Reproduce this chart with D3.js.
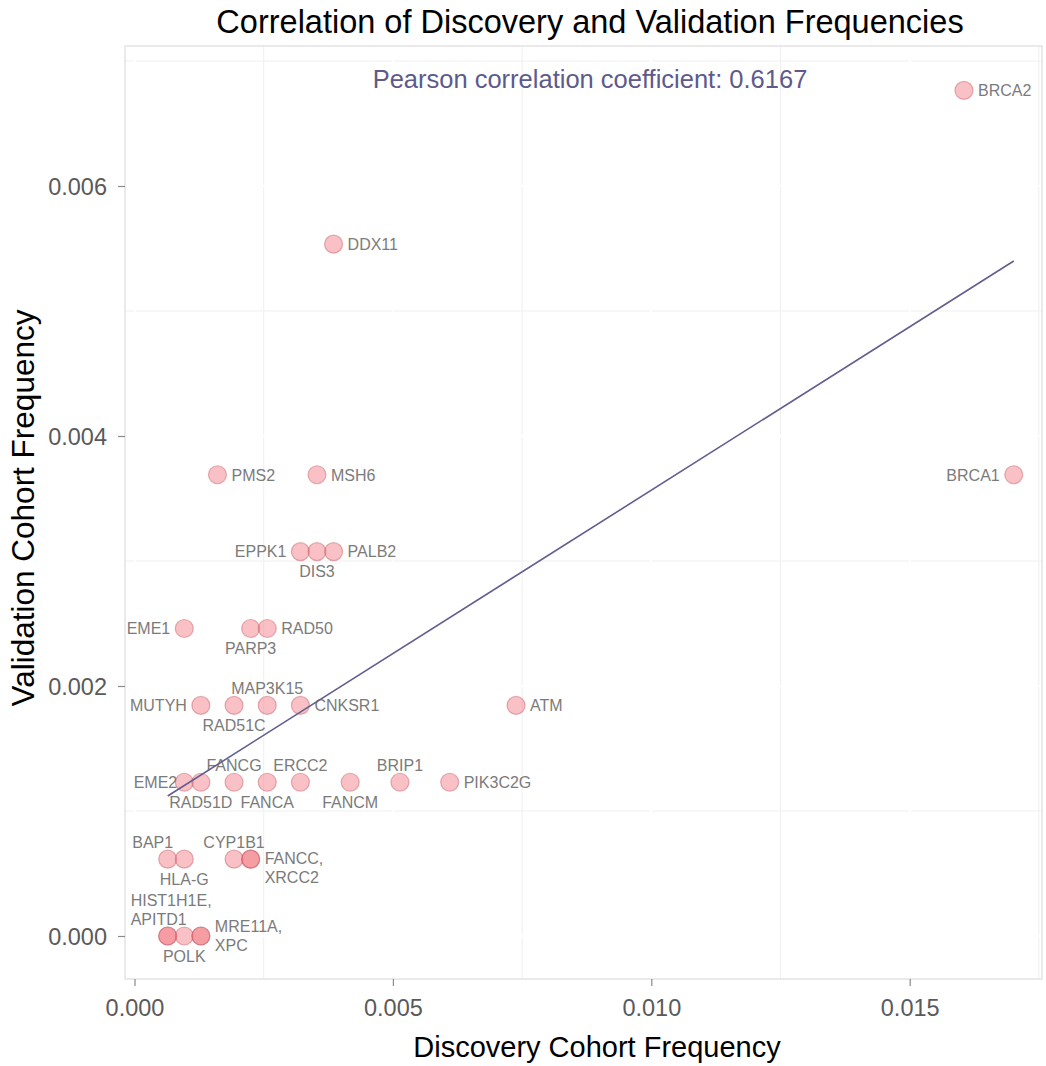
<!DOCTYPE html>
<html>
<head>
<meta charset="utf-8">
<script src="https://cdn.jsdelivr.net/npm/d3@7"></script>
<style>
  body { margin: 0; background: #fff; }
  svg text { font-family: "Liberation Sans", Arial, Helvetica, sans-serif; }
</style>
</head>
<body>
<div id="chart"></div>
<script>
// gene frequencies
const genes = ["BRCA2","DDX11","PMS2","MSH6","BRCA1","EPPK1","DIS3","PALB2","EME1","PARP3","RAD50",
  "MUTYH","RAD51C","MAP3K15","CNKSR1","ATM","EME2","RAD51D","FANCG","FANCA","ERCC2","FANCM","BRIP1",
  "PIK3C2G","BAP1","HLA-G","CYP1B1","FANCC","XRCC2","HIST1H1E","APITD1","POLK","MRE11A","XPC"]
const discovery = [0.01605,0.003852,0.001605,0.003531,0.017013,0.00321,0.003531,0.003852,0.000963,0.002247,0.002568,
  0.001284,0.001926,0.002568,0.00321,0.007383,0.000963,0.001284,0.001926,0.002568,0.00321,0.004173,0.005136,
  0.006099,0.000642,0.000963,0.001926,0.002247,0.002247,0.000642,0.000642,0.000963,0.001284,0.001284]
const validation = [0.006765,0.005535,0.00369,0.00369,0.00369,0.003075,0.003075,0.003075,0.00246,0.00246,0.00246,
  0.001845,0.001845,0.001845,0.001845,0.001845,0.00123,0.00123,0.00123,0.00123,0.00123,0.00123,0.00123,
  0.00123,0.000615,0.000615,0.000615,0.000615,0.000615,0,0,0,0,0]
// label text per gene ("" = shares a label with the previous gene)
const labelText = ["BRCA2","DDX11","PMS2","MSH6","BRCA1","EPPK1","DIS3","PALB2","EME1","PARP3","RAD50",
  "MUTYH","RAD51C","MAP3K15","CNKSR1","ATM","EME2","RAD51D","FANCG","FANCA","ERCC2","FANCM","BRIP1",
  "PIK3C2G","BAP1","HLA-G","CYP1B1","FANCC,|XRCC2","","HIST1H1E,|APITD1","","POLK","MRE11A,|XPC",""]
// fitted line ends
const fitX = [0.000642, 0.017013]
const fitY = [0.00112, 0.0054]
const xTicks = [0, 0.005, 0.010, 0.015]
const yTicks = [0, 0.002, 0.004, 0.006]
const xMinor = [0.0025, 0.0075, 0.0125, 0.0175]
const yMinor = [0.001, 0.003, 0.005, 0.007]
const pearson = 0.6167

// where each label goes: r/l/t/b, plus a few hand nudges
const side = ["r","r","r","r","l","l","b","r","l","b","r","l","b","t","r","r","l","b","t","b","t","b","t",
  "r","t","b","t","r","","t","","b","r",""]
const nudge = { "BAP1": {dx: -15}, "FANCC": {dy: 9}, "EME2": {dx: 7}, "HIST1H1E": {dx: -37, anchor: "start"} }

const width = 1046
const height = 1066
const pLeft = 125, pRight = 1042, pTop = 46, pBottom = 979

const x = d3.scaleLinear().domain([-0.000184, 0.01756]).range([pLeft, pRight])
const y = d3.scaleLinear().domain([-0.000344, 0.00712]).range([pBottom, pTop])

const svg = d3.select('#chart').append('svg')
  .attr('width', width)
  .attr('height', height)

// grid
const grid = svg.append('g')
grid.selectAll('.vmin').data(xMinor).enter().append('line')
  .attr('x1', d => x(d)).attr('x2', d => x(d)).attr('y1', pTop).attr('y2', pBottom)
  .attr('stroke', '#efefef').attr('stroke-width', 1)
grid.selectAll('.hmin').data(yMinor).enter().append('line')
  .attr('x1', pLeft).attr('x2', pRight).attr('y1', d => y(d)).attr('y2', d => y(d))
  .attr('stroke', '#efefef').attr('stroke-width', 1)
grid.selectAll('.vmaj').data(xTicks).enter().append('line')
  .attr('x1', d => x(d)).attr('x2', d => x(d)).attr('y1', pTop).attr('y2', pBottom)
  .attr('stroke', '#fff').attr('stroke-width', 2)
grid.selectAll('.hmaj').data(yTicks).enter().append('line')
  .attr('x1', pLeft).attr('x2', pRight).attr('y1', d => y(d)).attr('y2', d => y(d))
  .attr('stroke', '#fff').attr('stroke-width', 2)

svg.append('rect')
  .attr('x', pLeft).attr('y', pTop).attr('width', pRight - pLeft).attr('height', pBottom - pTop)
  .attr('fill', 'none').attr('stroke', '#e3e3e3').attr('stroke-width', 1.5)

// axes
const xAxis = svg.append('g')
  .attr('transform', `translate(0,${pBottom})`)
  .call(d3.axisBottom(x).tickValues(xTicks).tickFormat(d3.format('.3f')).tickSize(7).tickPadding(13))
const yAxis = svg.append('g')
  .attr('transform', `translate(${pLeft},0)`)
  .call(d3.axisLeft(y).tickValues(yTicks).tickFormat(d3.format('.3f')).tickSize(7).tickPadding(11))
;[xAxis, yAxis].forEach(a => {
  a.select('.domain').remove()
  a.selectAll('.tick line').attr('stroke', '#8a8a8a').attr('stroke-width', 1.2)
  a.selectAll('.tick text').attr('fill', '#5a5a5a').style('font-size', '23.5px')
})
yAxis.selectAll('.tick text').attr('dy', '0.36em')

// points
svg.append('g').selectAll('circle')
  .data(genes)
  .enter()
  .append('circle')
  .attr('cx', (d, i) => x(discovery[i]))
  .attr('cy', (d, i) => y(validation[i]))
  .attr('r', 9)
  .attr('fill', 'rgba(241,112,122,0.44)')
  .attr('stroke', 'rgba(190,80,90,0.42)')
  .attr('stroke-width', 1.2)

// labels
const fs = 16
const lh = 19
const labels = svg.append('g')
genes.forEach((g, i) => {
  if (!labelText[i]) return
  const lines = labelText[i].split('|')
  const n = nudge[g] || {}
  let px = x(discovery[i]) + (n.dx || 0)
  let py = y(validation[i]) + (n.dy || 0)
  let anchor = 'middle'
  let firstY
  const s = side[i]
  if (s === 'r') { px += 14; anchor = 'start'; firstY = py - (lines.length - 1) * lh / 2 }
  if (s === 'l') { px -= 14; anchor = 'end'; firstY = py - (lines.length - 1) * lh / 2 }
  if (s === 't') { firstY = py - 17 - (lines.length - 1) * lh }
  if (s === 'b') { firstY = py + 20 }
  if (n.anchor) anchor = n.anchor
  lines.forEach((t, k) => {
    labels.append('text')
      .attr('x', px)
      .attr('y', firstY + k * lh + fs * 0.36)
      .attr('text-anchor', anchor)
      .attr('fill', '#7b7b7b')
      .style('font-size', fs + 'px')
      .text(t)
  })
})

// fit line
svg.append('line')
  .attr('x1', x(fitX[0])).attr('y1', y(fitY[0]))
  .attr('x2', x(fitX[1])).attr('y2', y(fitY[1]))
  .attr('stroke', '#625e8e')
  .attr('stroke-width', 1.6)

svg.append('text')
  .attr('x', 590).attr('y', 88)
  .attr('text-anchor', 'middle')
  .attr('fill', '#5e5a8c')
  .style('font-size', '25.5px')
  .text('Pearson correlation coefficient: ' + pearson)

// titles
svg.append('text')
  .attr('x', 590).attr('y', 33)
  .attr('text-anchor', 'middle')
  .attr('fill', '#000')
  .style('font-size', '32.5px')
  .text('Correlation of Discovery and Validation Frequencies')
svg.append('text')
  .attr('x', 597).attr('y', 1057)
  .attr('text-anchor', 'middle')
  .attr('fill', '#000')
  .style('font-size', '29px')
  .text('Discovery Cohort Frequency')
svg.append('text')
  .attr('transform', 'translate(34,508)rotate(-90)')
  .attr('text-anchor', 'middle')
  .attr('fill', '#000')
  .style('font-size', '31.5px')
  .text('Validation Cohort Frequency')
</script>
</body>
</html>
